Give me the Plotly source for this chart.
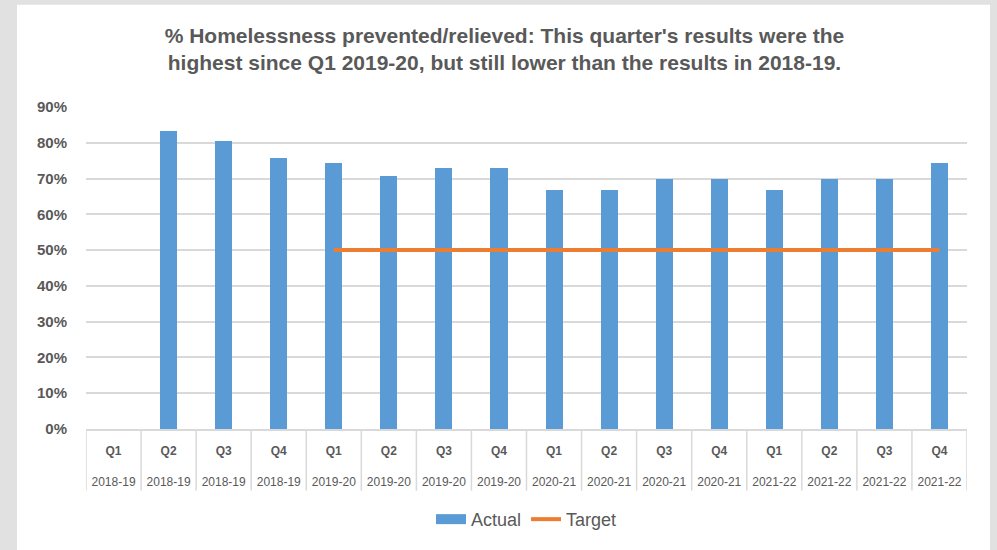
import plotly.graph_objects as go

quarters = ["Q1", "Q2", "Q3", "Q4"] * 4
years = ["2018-19"] * 4 + ["2019-20"] * 4 + ["2020-21"] * 4 + ["2021-22"] * 4
actual = [None, 0.833, 0.804, 0.758, 0.743, 0.707, 0.729, 0.729,
          0.669, 0.669, 0.699, 0.699, 0.669, 0.699, 0.699, 0.743]
target = [None, None, None, None, 0.5, 0.5, 0.5, 0.5,
          0.5, 0.5, 0.5, 0.5, 0.5, 0.5, 0.5, 0.5]

cats = [f"{q} {y}" for q, y in zip(quarters, years)]
ticktext = [f"<b>{q}</b><br><br>{y}" for q, y in zip(quarters, years)]

BLUE = "#5B9BD5"
ORANGE = "#ED7D31"

fig = go.Figure()
fig.add_trace(go.Bar(x=cats, y=actual, name="Actual", marker_color=BLUE,
                     marker_line_width=0, width=0.31, showlegend=False))
# legend-only entry to mimic the wide rectangular swatch
fig.add_trace(go.Scatter(x=[None], y=[None], name="Actual", mode="lines",
                         line=dict(color=BLUE, width=12)))
fig.add_trace(go.Scatter(x=cats, y=target, name="Target", mode="lines",
                         line=dict(color=ORANGE, width=4)))

W, H = 997, 550
L, R, T, B = 86, 30, 107, 119
pw, ph = W - L - R, H - T - B

shapes = []
# white card inside the gray frame
shapes.append(dict(type="rect", xref="paper", yref="paper",
                   x0=(17 - L) / pw, x1=(990 - L) / pw,
                   y0=-(H - (H - B) + 20) / ph, y1=((H - B) - 4) / ph,
                   fillcolor="white", line_width=0, layer="below"))
# category separators below axis
for i in range(len(cats) + 1):
    shapes.append(dict(type="line", xref="x", yref="paper",
                       x0=i - 0.5, x1=i - 0.5, y0=0, y1=-62 / ph,
                       line=dict(color="#d9d9d9", width=1.5)))

fig.update_layout(
    width=W, height=H,
    margin=dict(l=L, r=R, t=T, b=B),
    paper_bgcolor="#e1e1e1",
    plot_bgcolor="rgba(0,0,0,0)",
    title=dict(text="<b>% Homelessness prevented/relieved: This quarter's results were the<br>highest since Q1 2019-20, but still lower than the results in 2018-19.</b>",
               x=0.506, xanchor="center", y=1 - 43 / H, yanchor="middle",
               font=dict(family="Liberation Sans", size=21, color="#595959")),
    font=dict(family="Liberation Sans", color="#595959"),
    shapes=shapes,
    showlegend=True,
    legend=dict(orientation="h", x=0.5, xanchor="center", y=-(522 - (H - B)) / ph,
                yanchor="middle", font=dict(size=18, color="#595959"),
                bgcolor="rgba(0,0,0,0)", itemwidth=30),
    bargap=0,
)
fig.update_xaxes(type="category", tickmode="array", tickvals=cats, ticktext=ticktext,
                 range=[-0.5, len(cats) - 0.5],
                 tickfont=dict(size=12, color="#595959"),
                 ticks="outside", ticklen=10, tickcolor="rgba(0,0,0,0)",
                 showline=True, linecolor="#d9d9d9", linewidth=1.5, showgrid=False)
fig.update_yaxes(range=[0, 0.9], dtick=0.1, tickformat=".0%",
                 tickfont=dict(size=15, color="#595959", weight="bold"),
                 showgrid=True, gridcolor="#d9d9d9", gridwidth=1.5,
                 zeroline=False, ticks="", ticklabelstandoff=18)

fig.write_html("out.html", config={"displayModeBar": False},
               post_script="document.body.style.margin='0';")
